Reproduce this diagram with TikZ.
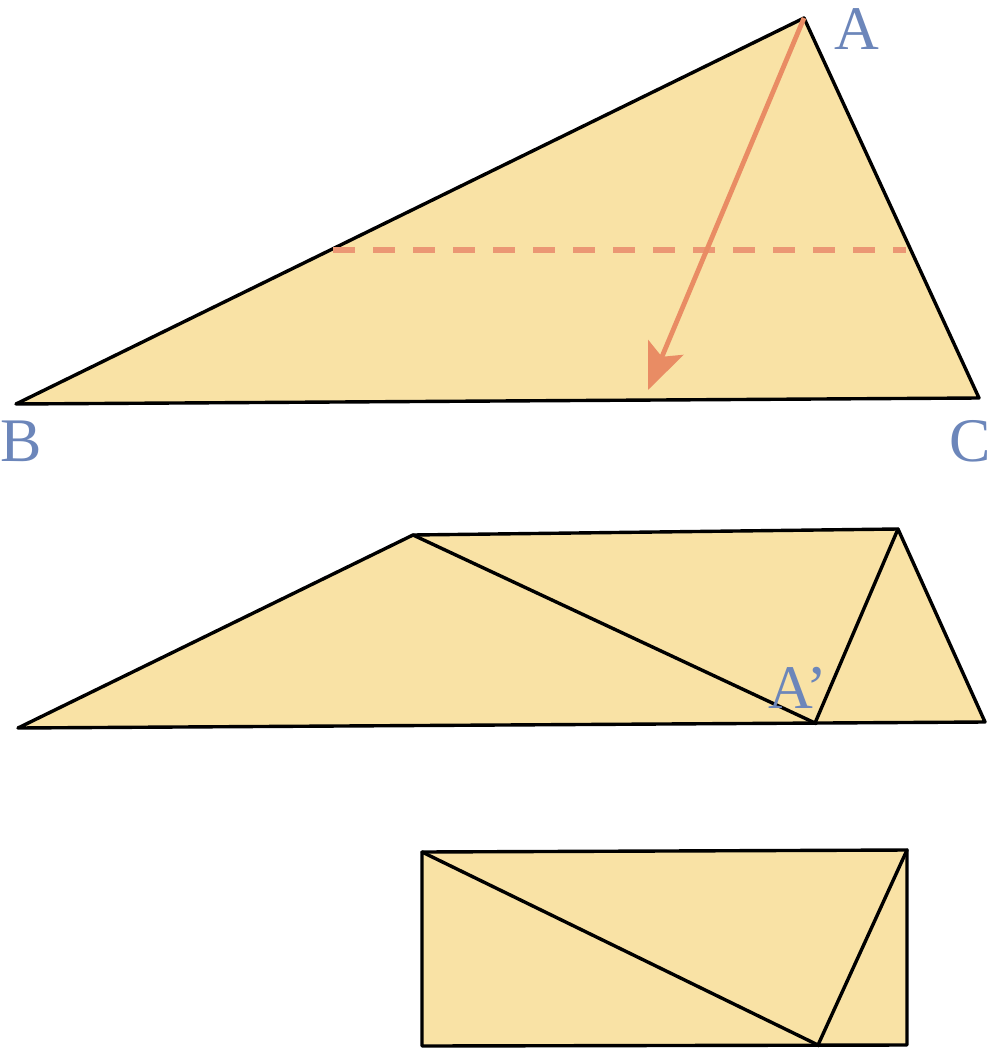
\documentclass[tikz,border=0pt]{standalone}
\usepackage{fontspec}
\setmainfont{Liberation Serif}
\usetikzlibrary{arrows.meta}
\definecolor{paper}{RGB}{249,226,165}
\definecolor{lab}{RGB}{108,134,186}
\definecolor{fold}{RGB}{233,140,100}
\tikzset{
  piece/.style={fill=paper, draw=black, line width=3.4pt, line join=round},
  crease/.style={draw=black, line width=3.4pt, line cap=round},
  lbl/.style={text=lab, inner sep=0pt, font=\fontsize{62}{62}\selectfont},
  foldarrow/.style={draw=fold, line width=4.8pt, -{Stealth[length=46pt,width=38pt,inset=10pt]}},
  foldline/.style={draw=fold!90!white, line width=5.5pt, dash pattern=on 22pt off 18pt}
}
\begin{document}
\begin{tikzpicture}[x=1pt,y=-1pt]
\useasboundingbox (0,0) rectangle (992,1064);
% ---- top triangle
\coordinate (A) at (804,18);
\coordinate (B) at (16,404);
\coordinate (C) at (979,398);
\coordinate (M1) at (333,250);
\coordinate (M2) at (906,250);
\coordinate (T) at (648,390);
\path[piece] (A) -- (B) -- (C) -- cycle;
\draw[foldline] (M1) -- (M2);
\draw[foldarrow] (A) -- (T);
\node[lbl] (lA) at (857,29) {A};
\node[lbl] (lB) at (21,441) {B};
\node[lbl] (lC) at (970,441) {C};
% ---- middle folded figure
\coordinate (B2) at (18,728);
\coordinate (D2) at (413,535);
\coordinate (E2) at (898,529);
\coordinate (C2) at (985,722);
\coordinate (A2) at (815,723);
\path[piece] (B2) -- (D2) -- (E2) -- (C2) -- cycle;
\draw[crease] (D2) -- (A2) -- (E2);
\node[lbl] (lA2) at (798,688) {A’};
% ---- bottom rectangle
\coordinate (R1) at (422,852);
\coordinate (R2) at (907,850);
\coordinate (R3) at (907,1045);
\coordinate (R4) at (422,1046);
\coordinate (A3) at (818,1045);
\path[piece] (R1) -- (R2) -- (R3) -- (R4) -- cycle;
\draw[crease] (R1) -- (A3) -- (R2);
\end{tikzpicture}
\end{document}
